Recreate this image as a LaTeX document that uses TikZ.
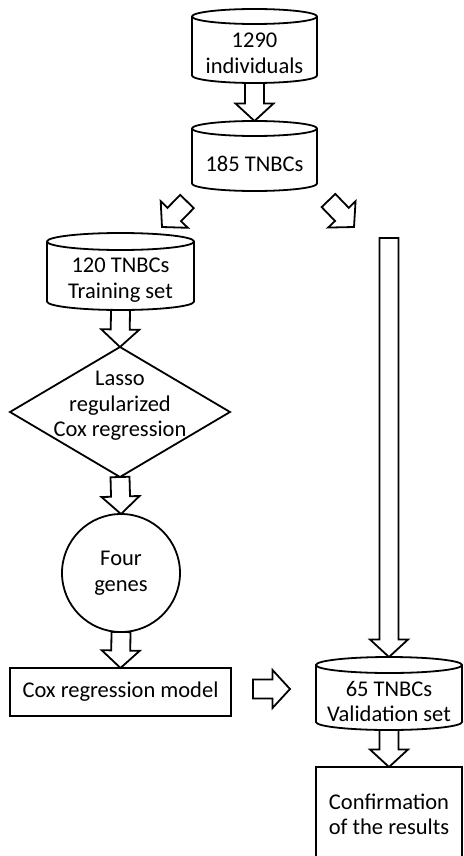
\documentclass[tikz,border=0pt]{standalone}
\usepackage{fontspec}
\setmainfont{Carlito}
\usetikzlibrary{calc,shapes.geometric}
\tikzset{
  outl/.style={draw=black, line width=1.8pt, line join=miter},
  txt/.style={font=\fontsize{22.5pt}{25.5pt}\selectfont, align=center, inner sep=0pt, outer sep=0pt},
  cylbox/.style={draw=none, inner sep=0pt, outer sep=0pt},
  boxnode/.style={outl, fill=white, txt, inner sep=0pt, outer sep=0pt},
  fatarrow/.style={outl, fill=white, line join=miter, miter limit=10},
}
\newcommand{\cylshape}[3]{%
  \draw[outl, fill=white] ([yshift=-#3]#1.north west) arc[start angle=180, end angle=0, x radius=#2, y radius=#3]
     -- ([yshift=#3]#1.south east) arc[start angle=0, end angle=-180, x radius=#2, y radius=#3] -- cycle;
  \draw[outl] ([yshift=-#3]#1.north west) arc[start angle=180, end angle=360, x radius=#2, y radius=#3];
}
\newcommand{\blockarrow}[2]{%
  \coordinate (ba-h) at ($(#2)!17.5pt!(#1)$);
  \draw[fatarrow] ($(#1)!9.5pt!90:(#2)$) -- ($(ba-h)!9.5pt!-90:(#1)$) -- ($(ba-h)!19pt!-90:(#1)$)
    -- (#2) -- ($(ba-h)!19pt!90:(#1)$) -- ($(ba-h)!9.5pt!90:(#1)$) -- ($(#1)!9.5pt!-90:(#2)$) -- cycle;
}
\begin{document}
\begin{tikzpicture}[x=1pt, y=-1pt]
\useasboundingbox (0,0) rectangle (463,856);
\fill[white] (0,0) rectangle (463,856);

% cylinders
\node[cylbox, minimum width=125pt, minimum height=74pt] (c1) at (254.5,46) {};
\cylshape{c1}{62.5pt}{7.5pt}
\node[txt] (c1t) at ([yshift=-7.5pt]c1.center) {1290\\individuals};

\node[cylbox, minimum width=125pt, minimum height=70pt] (c2) at (254.5,156) {};
\cylshape{c2}{62.5pt}{7.5pt}
\node[txt] (c2t) at ([yshift=-7.5pt]c2.center) {185 TNBCs};

\node[cylbox, minimum width=147pt, minimum height=77pt] (c3) at (120.5,271.5) {};
\cylshape{c3}{73.5pt}{8.5pt}
\node[txt] (c3t) at ([yshift=-8.5pt]c3.center) {120 TNBCs\\Training set};

\node[cylbox, minimum width=146pt, minimum height=73pt] (c4) at (389,693.5) {};
\cylshape{c4}{73pt}{8pt}
\node[txt] (c4t) at ([yshift=-8pt]c4.center) {65 TNBCs\\Validation set};

% diamond
\node[diamond, outl, fill=white, minimum width=220pt, minimum height=130pt, inner sep=0pt, outer sep=0pt] (d) at (120,412) {};
\node[txt] (dt) at (120,406) {Lasso\\regularized\\Cox regression};

% circle
\node[circle, outl, fill=white, txt, minimum size=118pt] (g) at (121,573) {Four\\genes};

% rectangles
\node[boxnode, minimum width=221pt, minimum height=48pt] (r1) at (120.5,692) {Cox regression model};
\node[boxnode, minimum width=146pt, minimum height=95pt] (r2) at (389,814.5) {Confirmation\\of the results};

% free ends
\coordinate (dl0) at (187,201.5);
\coordinate (dl1) at (162,227);
\coordinate (dr0) at (328.5,200.5);
\coordinate (dr1) at (354,227);
\coordinate (vt) at (389,238);
\coordinate (m1) at (253,689);
\coordinate (m2) at (290,689);

% block arrows
\blockarrow{c1.south}{c2.north}
\blockarrow{dl0}{dl1}
\blockarrow{dr0}{dr1}
\blockarrow{vt}{c4.north}
\blockarrow{c3.south}{d.north}
\blockarrow{d.south}{g.north}
\blockarrow{g.south}{r1.north}
\blockarrow{m1}{m2}
\blockarrow{c4.south}{r2.north}
\end{tikzpicture}
\end{document}
